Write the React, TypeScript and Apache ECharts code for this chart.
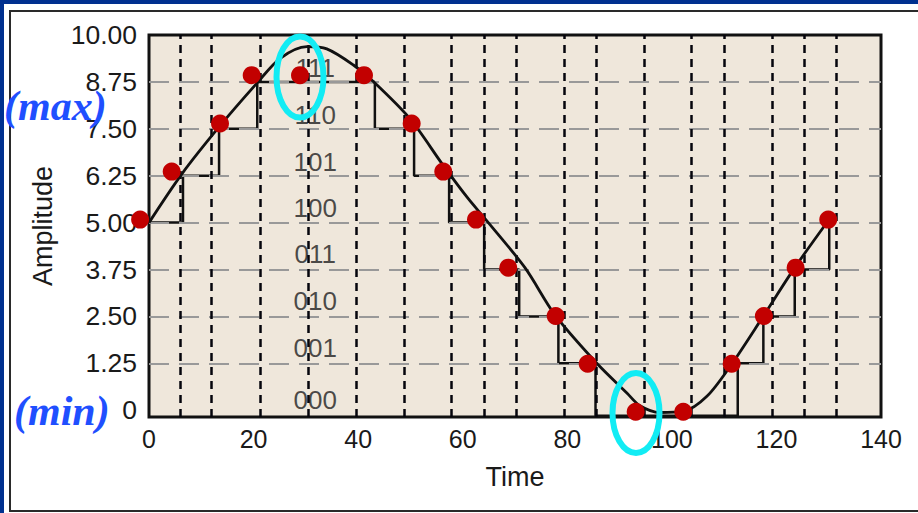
import React, { useEffect, useRef } from "react";
import * as echarts from "echarts";

// ---- data ----
const xTickMax = 140;
const xTickStep = 20;
const yTicks = [0, 1.25, 2.5, 3.75, 5, 6.25, 7.5, 8.75, 10];
const yGridLevels = [1.25, 2.5, 3.75, 5, 6.25, 7.5, 8.75];
const sampleTimes = [5.93, 11.99, 21.23, 30.46, 39.72, 48.86, 57.89, 64.07, 70.19, 79.37, 85.49, 94.71, 103.79, 109.96, 119.2, 125.3, 131.4];

const analogCurve: [number, number][] = [
  [0, 5.0], [6.3, 6.3], [13.4, 7.55], [20.6, 8.71], [25.1, 9.38], [30.2, 9.69], [34.0, 9.63],
  [39.1, 9.2], [42.9, 8.76], [49.9, 7.77], [56.2, 6.54], [61.1, 5.63], [64.3, 5.1], [71.9, 3.8],
  [77.6, 2.55], [85.6, 1.26], [91.4, 0.46], [93.9, 0.12], [97.7, -0.06], [102.2, -0.03],
  [106.7, 0.37], [111.4, 1.22], [117.5, 2.51], [123.5, 3.8], [129.9, 5.05],
];

const quantizedSteps: [number, number][] = [
  [0, 5], [6.5, 5], [6.5, 6.25], [13.4, 6.25], [13.4, 7.5], [20.7, 7.5], [20.7, 8.75],
  [43.2, 8.75], [43.2, 7.5], [50.7, 7.5], [50.7, 6.25], [57.4, 6.25], [57.4, 5], [64.1, 5],
  [64.1, 3.75], [70.8, 3.75], [70.8, 2.5], [78.3, 2.5], [78.3, 1.25], [85.4, 1.25], [85.4, -0.15],
  [112.6, -0.15], [112.6, 1.25], [117.5, 1.25], [117.5, 2.5], [123.5, 2.5], [123.5, 3.75],
  [130.1, 3.75], [130.1, 5],
];

const samplePoints: [number, number][] = [
  [-1.7, 5.08], [4.34, 6.36], [13.58, 7.64], [19.64, 8.93], [28.88, 8.93], [41.12, 8.93],
  [50.24, 7.64], [56.28, 6.36], [62.54, 5.08], [68.71, 3.8], [77.78, 2.51], [83.9, 1.24],
  [93.08, -0.04], [102.18, -0.04], [111.44, 1.24], [117.6, 2.51], [123.67, 3.8], [129.91, 5.08],
];

const codeLabels = ["111", "110", "101", "100", "011", "010", "001", "000"];
const codeLabelY = [9.11, 7.87, 6.62, 5.4, 4.16, 2.91, 1.66, 0.28];
const codeLabelX = 31.8;

export default function App() {
  const ref = useRef<HTMLDivElement>(null);

  useEffect(() => {
    if (!ref.current) return;
    const chart = echarts.init(ref.current, undefined, { renderer: "svg" });
    const font = '"Liberation Sans", Arial, sans-serif';

    const option: any = {
      animation: false,
      backgroundColor: "#ffffff",
      grid: {
        left: 149,
        top: 35,
        right: 37,
        bottom: 96,
        show: true,
        backgroundColor: "#efe7db",
        borderColor: "#111",
        borderWidth: 3,
        containLabel: false,
      },
      xAxis: {
        type: "value",
        min: 0,
        max: xTickMax,
        interval: xTickStep,
        name: "Time",
        nameLocation: "middle",
        nameGap: 46,
        nameTextStyle: { fontFamily: font, fontSize: 27, color: "#1a1a1a" },
        axisLine: { show: false },
        axisTick: { show: false },
        splitLine: { show: false },
        axisLabel: { fontFamily: font, fontSize: 25, color: "#1a1a1a", margin: 9 },
      },
      yAxis: {
        type: "value",
        min: -0.18,
        max: 10,
        name: "Amplitude",
        nameLocation: "middle",
        nameGap: 93,
        nameTextStyle: { fontFamily: font, fontSize: 27, color: "#1a1a1a" },
        axisLine: { show: false },
        axisTick: { show: false },
        splitLine: { show: false },
        axisLabel: {
          customValues: yTicks,
          fontFamily: font,
          fontSize: 26.5,
          color: "#1a1a1a",
          margin: 12,
          formatter: (v: number) => (v === 0 ? "0" : v.toFixed(2)),
        },
      },
      series: [
        {
          type: "scatter",
          z: 1,
          symbolSize: 0,
          silent: true,
          data: codeLabels.map((c, i) => ({ value: [codeLabelX, codeLabelY[i]], name: c })),
          label: {
            show: true,
            position: "inside",
            formatter: (p: any) => p.name,
            fontFamily: font,
            fontSize: 26,
            color: "#1e1e1e",
          },
        },
        {
          type: "line",
          z: 2,
          data: [],
          silent: true,
          markLine: {
            silent: true,
            symbol: "none",
            label: { show: false },
            lineStyle: { color: "#999999", width: 2, type: [20, 10], opacity: 1 },
            data: yGridLevels.map((v) => ({ yAxis: v })),
          },
        },
        {
          type: "line",
          z: 3,
          data: [],
          silent: true,
          markLine: {
            silent: true,
            symbol: "none",
            label: { show: false },
            lineStyle: { color: "#05050c", width: 2.5, type: [8, 6], opacity: 1 },
            data: sampleTimes.map((t) => ({ xAxis: t })),
          },
        },
        {
          type: "line",
          z: 4,
          data: quantizedSteps,
          showSymbol: false,
          lineStyle: { color: "#111", width: 2.5 },
        },
        {
          type: "line",
          z: 5,
          data: analogCurve,
          smooth: 0.3,
          showSymbol: false,
          lineStyle: { color: "#111", width: 2.8 },
        },
        {
          type: "scatter",
          z: 6,
          clip: false,
          data: samplePoints,
          symbolSize: 18,
          itemStyle: { color: "#c20000", opacity: 1 },
        },
      ],
      graphic: [
        { type: "rect", z: 100, shape: { x: 0, y: 0, width: 918, height: 4 }, style: { fill: "#00308f" } },
        { type: "rect", z: 100, shape: { x: 0, y: 0, width: 4, height: 513 }, style: { fill: "#00308f" } },
        {
          type: "rect",
          z: 100,
          shape: { x: 10, y: 11, width: 930, height: 500 },
          style: { fill: "none", stroke: "#2a2a2a", lineWidth: 2 },
        },
        {
          type: "text",
          z: 100,
          x: 4,
          y: 106,
          style: {
            text: "(max)",
            font: 'italic bold 42px "Liberation Serif", "DejaVu Serif", serif',
            fill: "#1f4fff",
            align: "left",
            verticalAlign: "middle",
          },
        },
        {
          type: "text",
          z: 100,
          x: 14,
          y: 411,
          style: {
            text: "(min)",
            font: 'italic bold 42px "Liberation Serif", "DejaVu Serif", serif',
            fill: "#1f4fff",
            align: "left",
            verticalAlign: "middle",
          },
        },
        {
          type: "ellipse",
          z: 100,
          shape: { cx: 300, cy: 77, rx: 23.5, ry: 40.5 },
          style: { fill: "none", stroke: "#12ecf4", lineWidth: 6 },
        },
        {
          type: "ellipse",
          z: 100,
          shape: { cx: 636, cy: 413, rx: 23.5, ry: 40 },
          style: { fill: "none", stroke: "#12ecf4", lineWidth: 6 },
        },
      ],
    };

    chart.setOption(option);
    return () => chart.dispose();
  }, []);

  return (
    <div
      ref={ref}
      style={{ position: "absolute", left: 0, top: 0, width: 918, height: 513 }}
    />
  );
}
